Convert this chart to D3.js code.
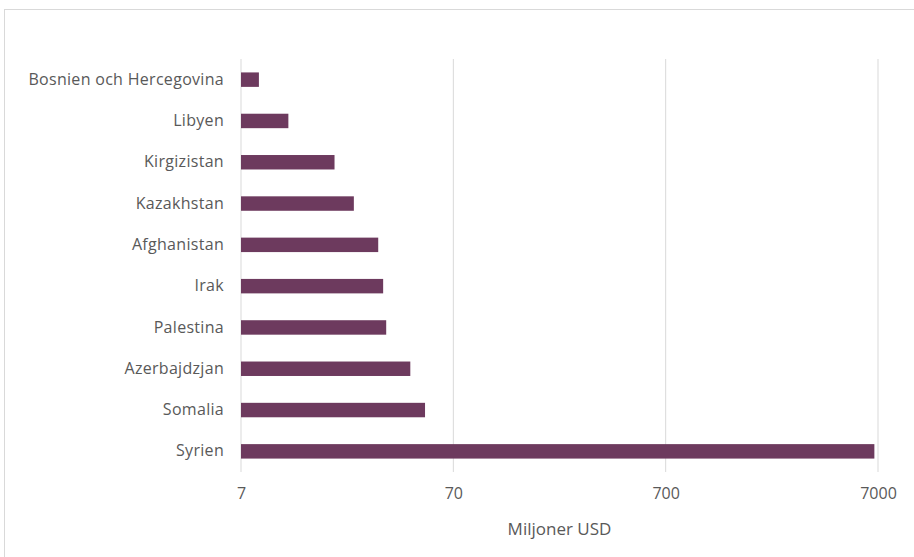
<!DOCTYPE html>
<html>
<head>
<meta charset="utf-8">
<script src="https://cdn.jsdelivr.net/npm/d3@7"></script>
<style>
  body { margin: 0; background: #fff; }
  text { font-family: "Open Sans", sans-serif; fill: #595959; }
</style>
</head>
<body>
<div id="chart"></div>
<script>
const countries = ["Bosnien och Hercegovina", "Libyen", "Kirgizistan", "Kazakhstan",
  "Afghanistan", "Irak", "Palestina", "Azerbajdzjan", "Somalia", "Syrien"];
const values = [8.5, 11.7, 19.3, 23.8, 31.0, 32.7, 33.8, 43.9, 51.5, 6730];
const ticks = [7, 70, 700, 7000];

const width = 914, height = 557;
const margin = { top: 59, left: 241, right: 36, bottom: 85 };

const svg = d3.select("#chart")
  .append("svg")
  .attr("width", width)
  .attr("height", height);

// outer frame
svg.append("rect")
  .attr("x", 4.5).attr("y", 9.5)
  .attr("width", width + 10).attr("height", height + 10)
  .attr("fill", "none")
  .attr("stroke", "#d9d9d9");

const x = d3.scaleLog()
  .domain([7, 7000])
  .range([margin.left, width - margin.right]);

const y = d3.scaleBand()
  .domain(countries)
  .range([margin.top, height - margin.bottom])
  .paddingInner(0.65)
  .paddingOuter(0.325);

// grid lines
svg.append("g")
  .selectAll("line")
  .data(ticks)
  .enter()
  .append("line")
  .attr("x1", d => x(d)).attr("x2", d => x(d))
  .attr("y1", margin.top).attr("y2", height - margin.bottom)
  .attr("stroke", "#d9d9d9")
  .attr("stroke-width", 1);

// bars
svg.append("g")
  .selectAll("rect")
  .data(countries)
  .enter()
  .append("rect")
  .attr("x", x(7))
  .attr("y", d => y(d))
  .attr("width", (d, i) => x(values[i]) - x(7))
  .attr("height", y.bandwidth())
  .attr("fill", "#6d3a5e");

// x axis labels
const xAxis = d3.axisBottom(x)
  .tickValues(ticks)
  .tickFormat(d3.format("d"))
  .tickSize(0)
  .tickPadding(16);

const gx = svg.append("g")
  .attr("transform", "translate(0," + (height - margin.bottom) + ")")
  .call(xAxis);
gx.select(".domain").remove();
gx.selectAll("text")
  .style("font-size", "16px")
  .attr("fill", "#595959");

// y axis labels
const yAxis = d3.axisLeft(y).tickSize(0).tickPadding(17);
const gy = svg.append("g")
  .attr("transform", "translate(" + margin.left + ",0)")
  .call(yAxis);
gy.select(".domain").remove();
gy.selectAll("text")
  .style("font-size", "16px")
  .style("letter-spacing", "0.3px")
  .attr("fill", "#595959");

// axis title
svg.append("text")
  .attr("x", (x(7) + x(7000)) / 2)
  .attr("y", 535)
  .attr("text-anchor", "middle")
  .style("font-size", "17px")
  .text("Miljoner USD");
</script>
</body>
</html>
